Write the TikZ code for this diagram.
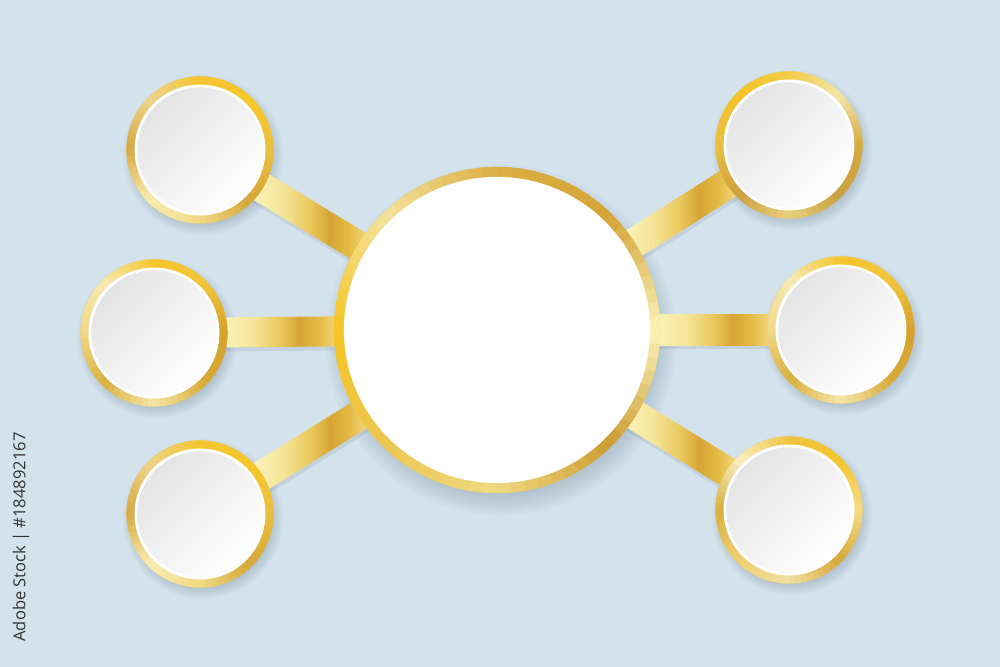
\documentclass[tikz,border=0pt]{standalone}
\usepackage{fontspec}
\newfontfamily\labfont{Open Sans}
\usetikzlibrary{calc}
\pgfdeclarelayer{backdrop}
\pgfdeclarelayer{shade}
\pgfdeclarelayer{bars}
\pgfsetlayers{backdrop,shade,bars,main}

\definecolor{bgblue}{HTML}{D4E2EC}
\definecolor{shadowcol}{HTML}{4A6272}
\definecolor{goldmid}{HTML}{EBC552}
\definecolor{facegrey}{HTML}{E4E4E4}
\definecolor{facemid}{HTML}{F7F7F7}
\definecolor{tagtext}{HTML}{333333}
% bar colours (centre end -> satellite end)
\definecolor{bA}{HTML}{FAF3BA}
\definecolor{bB}{HTML}{F6E59A}
\definecolor{bC}{HTML}{EAC75A}
\definecolor{bD}{HTML}{D5A535}
\definecolor{bE}{HTML}{E3B944}
\definecolor{bF}{HTML}{F3DA80}
% central ring palette (0,45,...,315 degrees)
\definecolor{rc0}{HTML}{FAF3B8}
\definecolor{rc1}{HTML}{D4A437}
\definecolor{rc2}{HTML}{DCAE44}
\definecolor{rc3}{HTML}{F4E29A}
\definecolor{rc4}{HTML}{F5C523}
\definecolor{rc5}{HTML}{EDC650}
\definecolor{rc6}{HTML}{F0D982}
\definecolor{rc7}{HTML}{CB9C31}
% left diagonal satellites
\definecolor{ra0}{HTML}{EBC040}
\definecolor{ra1}{HTML}{F6C72A}
\definecolor{ra2}{HTML}{F4C530}
\definecolor{ra3}{HTML}{EED48A}
\definecolor{ra4}{HTML}{D6A944}
\definecolor{ra5}{HTML}{F8EDB2}
\definecolor{ra6}{HTML}{F1DA86}
\definecolor{ra7}{HTML}{D5A738}
% side satellites
\definecolor{rb0}{HTML}{D5A22E}
\definecolor{rb1}{HTML}{F2C53C}
\definecolor{rb2}{HTML}{F6C42A}
\definecolor{rb3}{HTML}{F6EAB2}
\definecolor{rb4}{HTML}{F0D888}
\definecolor{rb5}{HTML}{DAB040}
\definecolor{rb6}{HTML}{F5E6A8}
\definecolor{rb7}{HTML}{D8AA38}
% top-right satellite
\definecolor{rd0}{HTML}{D6AA42}
\definecolor{rd1}{HTML}{F2E6A8}
\definecolor{rd2}{HTML}{F2CC48}
\definecolor{rd3}{HTML}{F5C225}
\definecolor{rd4}{HTML}{E8C040}
\definecolor{rd5}{HTML}{CDA040}
\definecolor{rd6}{HTML}{E8D080}
\definecolor{rd7}{HTML}{C9A040}
% bottom-right satellite
\definecolor{re0}{HTML}{F2DC88}
\definecolor{re1}{HTML}{F5C530}
\definecolor{re2}{HTML}{F0C440}
\definecolor{re3}{HTML}{F8EEC0}
\definecolor{re4}{HTML}{D8B040}
\definecolor{re5}{HTML}{EFD070}
\definecolor{re6}{HTML}{F3E0A0}
\definecolor{re7}{HTML}{D6A838}

\pgfdeclarehorizontalshading{goldbarshade}{100bp}{color(0bp)=(bA); color(25bp)=(bA); color(38bp)=(bB); color(50bp)=(bC); color(58bp)=(bD); color(66bp)=(bE); color(75bp)=(bF); color(100bp)=(bF)}

% #1 node, #2 outer radius, #3 inner radius, #4 palette prefix
\newcommand{\goldring}[4]{%
  \foreach \ringI in {0,...,71}{%
    \pgfmathtruncatemacro\ringK{int(\ringI/9)}%
    \pgfmathtruncatemacro\ringKn{mod(\ringK+1,8)}%
    \pgfmathtruncatemacro\ringT{100-100*(mod(\ringI,9)+0.5)/9}%
    \pgfmathsetmacro\ringA{5*\ringI}%
    \pgfmathsetmacro\ringB{5*\ringI+7}%
    \fill[color=#4\ringK!\ringT!#4\ringKn]
      ($(#1)+(\ringA:#2)$) arc[start angle=\ringA, end angle=\ringB, radius=#2]
      -- ($(#1)+(\ringB:#3)$) arc[start angle=\ringB, end angle=\ringA, radius=#3] -- cycle;
  }}

% soft shadow: #1 node, #2 radius, #3 dx, #4 dy, #5 spread step
\newcommand{\softshadow}[5]{%
  \foreach \shI in {0,...,9}{%
    \fill[shadowcol, opacity=0.03] ($(#1)+(#3,#4)$) circle[radius={#2-5*#5+\shI*#5}];
  }}

\begin{document}
\begin{tikzpicture}[x=0.01cm,y=0.01cm,
  hub/.style={circle, inner sep=0pt, minimum size=3.26cm, fill=goldmid},
  sat/.style={circle, inner sep=0pt, minimum size=1.47cm, fill=goldmid},
  hubface/.style={circle, inner sep=0pt, minimum size=3.06cm, fill=white},
  satface/.style={circle, inner sep=0pt, minimum size=1.28cm, draw=white, line width=0.8pt,
    top color=facegrey, middle color=facemid, bottom color=white, shading angle=45},
  goldbar/.style={rectangle, inner sep=0pt, minimum height=0.30cm, shading=goldbarshade},
  barshadow/.style={rectangle, inner sep=0pt, minimum height=0.30cm, fill=shadowcol, opacity=0.12},
  stocktag/.style={font=\labfont\fontsize{4.7}{5.5}\selectfont, text=tagtext, inner sep=0pt}
]
\useasboundingbox (0,0) rectangle (1000,667);
\begin{pgfonlayer}{backdrop}
  \fill[bgblue] (0,0) rectangle (1000,667);
\end{pgfonlayer}

% hub and satellites
\node[hub] (c)  at (497,337) {};
\node[sat] (tl) at (200,517) {};
\node[sat] (ml) at (154,334) {};
\node[sat] (bl) at (200,153) {};
\node[sat] (tr) at (789,522) {};
\node[sat] (mr) at (841,337) {};
\node[sat] (br) at (789,157) {};

% shadows
\begin{pgfonlayer}{shade}
\softshadow{c}{1.63cm}{4}{-10}{0.03cm}
\foreach \s in {tl,ml,bl,tr,mr,br}{
  \softshadow{\s}{0.735cm}{3}{-5}{0.016cm}
  \path let \p1=($(\s)-(c)$), \n1={atan2(\y1,\x1)}, \n2={veclen(\x1,\y1)} in
    node[barshadow, anchor=west, rotate=\n1, minimum width={\n2-2.28cm}] (barsh-\s)
      at ($(c)!1.58cm!(\s)+(1,-4)$) {};
}
\end{pgfonlayer}

% gold connecting bars
\begin{pgfonlayer}{bars}
\foreach \s in {tl,ml,bl,tr,mr,br}{
  \path let \p1=($(\s)-(c)$), \n1={atan2(\y1,\x1)}, \n2={veclen(\x1,\y1)} in
    node[goldbar, anchor=west, rotate=\n1, minimum width={\n2-2.28cm}] (bar-\s)
      at ($(c)!1.58cm!(\s)$) {};
}
\end{pgfonlayer}

% gold rings
\goldring{c}{1.63cm}{1.53cm}{rc}
\goldring{tl}{0.735cm}{0.64cm}{ra}
\goldring{bl}{0.735cm}{0.64cm}{ra}
\goldring{tr}{0.735cm}{0.64cm}{rd}
\goldring{br}{0.735cm}{0.64cm}{re}
\goldring{ml}{0.735cm}{0.64cm}{rb}
\goldring{mr}{0.735cm}{0.64cm}{rb}

% faces
\node[hubface] (c-in) at (c) {};
\foreach \s in {tl,ml,bl,tr,mr,br}{
  \node[satface] (\s-in) at (\s) {};
}

\node[stocktag, rotate=90] (tag) at (21,130) {Adobe Stock | \#184892167};
\end{tikzpicture}
\end{document}
